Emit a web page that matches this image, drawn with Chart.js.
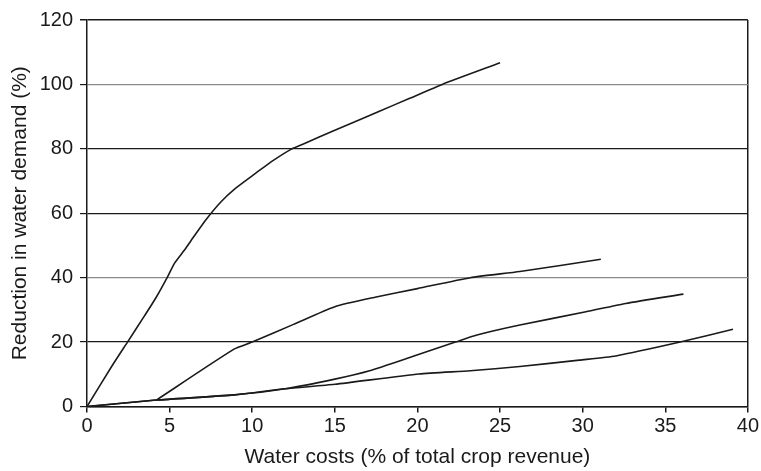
<!DOCTYPE html>
<html lang="en">
<head>
<meta charset="UTF-8">
<title>Water costs vs reduction in water demand</title>
<script src="https://cdn.jsdelivr.net/npm/chart.js"></script>
<style>
  html, body { margin: 0; padding: 0; background: #fff; }
</style>
</head>
<body>
<canvas id="myChart" width="761" height="471"></canvas>
<script>
  // values: [water cost %, reduction %]
  const curveA = [[0, 0], [1.5, 12.5], [2.45, 20], [3.4, 27.5], [4.2, 34], [4.85, 40], [5.3, 44.5], [5.9, 48.6],
    [6.5, 53], [7.2, 58], [8.1, 63.5], [9, 67.8], [10.2, 72.4], [11.3, 76.5], [12.4, 80], [13.1, 81.5], [15, 85.8],
    [16.5, 89], [17.7, 91.7], [19.5, 95.6], [21.5, 100], [25, 106.7]];
  const curveB = [[4.2, 2], [8.9, 17.8], [10, 20], [12.5, 25.5], [15, 31], [17.5, 34], [20, 36.6], [23.2, 40],
    [26.2, 41.9], [31.1, 45.7]];
  const curveC = [[0, 0], [4.2, 2], [8.9, 3.6], [12, 5.5], [15, 8.5], [17.1, 11.1], [19.7, 15.5], [22.3, 20],
    [23.6, 22.2], [26.2, 25.3], [30.2, 29.4], [32.6, 32], [36.1, 34.9]];
  const curveD = [[0, 0], [4.2, 2], [8.9, 3.6], [12, 5.5], [15, 6.9], [20.1, 10.1], [23.2, 11.1], [26.2, 12.4],
    [29.8, 14.4], [32, 15.7], [35.9, 20], [39.1, 24]];

  const xTicks = [0, 5, 10, 15, 20, 25, 30, 35, 40];
  const yTicks = [0, 20, 40, 60, 80, 100, 120];

  const font = { family: "'Liberation Sans', Arial, sans-serif", size: 20 };
  const titleFont = { family: "'Liberation Sans', Arial, sans-serif", size: 21 };

  const toPts = arr => arr.map(([x, y]) => ({ x, y }));
  const line = arr => ({
    data: toPts(arr),
    borderColor: '#1a1a1a',
    borderWidth: 1.6,
    pointRadius: 0,
    fill: false,
    tension: 0.2
  });

  const config = {
    type: 'line',
    data: {
      datasets: [line(curveA), line(curveB), line(curveC), line(curveD)]
    },
    options: {
      responsive: false,
      animation: false,
      devicePixelRatio: 1,
      layout: { padding: { top: 20, right: 12, left: 0, bottom: 0 } },
      plugins: { legend: { display: false }, tooltip: { enabled: false } },
      scales: {
        x: {
          type: 'linear',
          min: 0,
          max: 40,
          afterBuildTicks: s => { s.ticks = xTicks.map(v => ({ value: v })); },
          afterFit: s => { s.height = 64.5; },
          border: { color: '#1a1a1a', width: 1.5 },
          grid: {
            color: c => (c.tick && c.tick.value === 40 ? '#1a1a1a' : 'rgba(0,0,0,0)'),
            tickColor: '#1a1a1a',
            tickLength: 6,
            lineWidth: 1.5
          },
          ticks: { color: '#1a1a1a', font: font, padding: 2, maxRotation: 0 },
          title: {
            display: true,
            text: 'Water costs (% of total crop revenue)',
            color: '#1a1a1a',
            font: titleFont,
            padding: { top: 0, bottom: 1 }
          }
        },
        y: {
          min: 0,
          max: 120,
          afterBuildTicks: s => { s.ticks = yTicks.map(v => ({ value: v })); },
          afterFit: s => { s.width = 87; },
          border: { color: '#1a1a1a', width: 1.5 },
          grid: {
            color: c => {
              const v = c.tick && c.tick.value;
              return v === 100 || v === 40 ? '#8a8a8a' : '#1a1a1a';
            },
            tickColor: '#1a1a1a',
            tickLength: 7,
            lineWidth: c => (c.tick && c.tick.value === 120 ? 1.5 : 1.2)
          },
          ticks: { color: '#1a1a1a', font: font, padding: 7 },
          title: {
            display: true,
            text: 'Reduction in water demand (%)',
            color: '#1a1a1a',
            font: titleFont,
            padding: { top: 8, bottom: 0 }
          }
        }
      }
    }
  };

  const myChart = new Chart(document.getElementById('myChart'), config);
</script>
</body>
</html>
